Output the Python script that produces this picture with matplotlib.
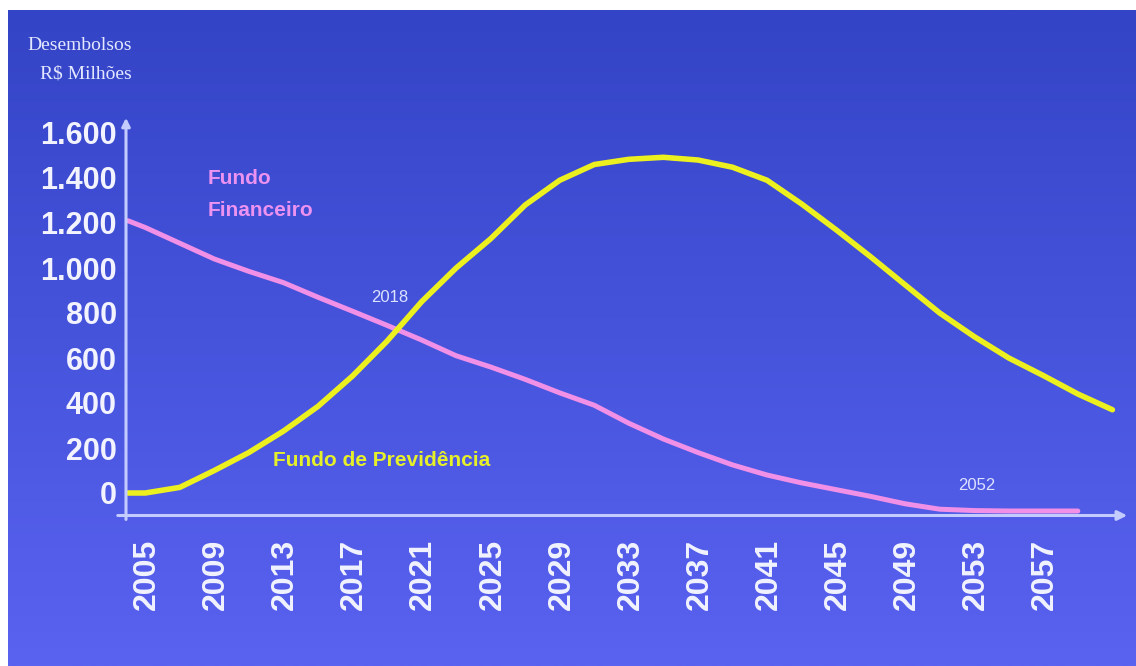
import numpy as np
import matplotlib
matplotlib.use("Agg")
import matplotlib.pyplot as plt
from matplotlib.colors import LinearSegmentedColormap

# data (R$ milhoes per year)
prev_years = [2005] + list(range(2006, 2063, 2))
prev_values = [0, 0, 25, 100, 180, 275, 385, 520, 675, 850, 1000, 1130, 1280, 1390,
               1460, 1483, 1492, 1480, 1448, 1390, 1285, 1170, 1050, 925, 800, 695,
               600, 522, 440, 370]

fin_years = [2005] + list(range(2006, 2061, 2))
fin_values = [1210, 1180, 1110, 1040, 985, 935, 870, 808, 745, 680, 610, 560, 505,
              445, 390, 310, 240, 180, 125, 80, 45, 15, -15, -48, -72, -78, -80,
              -80, -80]

year_labels = list(range(2005, 2058, 4))
y_ticks = [0, 200, 400, 600, 800, 1000, 1200, 1400, 1600]

W, H = 1136, 666
fig = plt.figure(figsize=(W / 100, H / 100), dpi=100)
fig.patch.set_facecolor("white")

# blue gradient background (thin white strip top and left)
bg = fig.add_axes([8 / W, 0, 1 - 8 / W, (H - 10) / H])
bg.axis("off")
cmap = LinearSegmentedColormap.from_list("bg", ["#3444c6", "#4654dc", "#5a62f0"])
grad = np.linspace(0, 1, 256).reshape(-1, 1)
bg.imshow(grad, aspect="auto", cmap=cmap, extent=[0, 1, 0, 1], origin="upper")

def fx(px):
    return px / W

def fy(py):
    return 1 - py / H

# main axes in pixel terms: x 126..1130, y 115..515.5
ax = fig.add_axes([fx(126), fy(515.5), fx(1130) - fx(126), fy(115) - fy(515.5)])
ax.patch.set_alpha(0)
px_per_year = 17.27
x0 = 2005 + (126 - 128) / px_per_year
x1 = 2005 + (1130 - 128) / px_per_year
ax.set_xlim(x0, x1)
ax.set_ylim(-100, 1680)
for s in ax.spines.values():
    s.set_visible(False)

ax.plot(fin_years, fin_values, color="#f090e6", lw=3.6, solid_capstyle="round",
        solid_joinstyle="round", clip_on=False)
ax.plot(prev_years, prev_values, color="#ecf01e", lw=4, solid_capstyle="round",
        solid_joinstyle="round", clip_on=False)

# axis arrows
axis_col = "#c4ccff"
ax.annotate("", xy=(x1, -100), xytext=(2005 + (115 - 128) / px_per_year, -100),
            arrowprops=dict(arrowstyle="-|>", color=axis_col, lw=2.2, mutation_scale=14),
            annotation_clip=False)
ax.annotate("", xy=(x0, 1680), xytext=(x0, -130),
            arrowprops=dict(arrowstyle="-|>", color=axis_col, lw=2.2, mutation_scale=12),
            annotation_clip=False)

label_col = "#f2f3ff"
ax.set_yticks(y_ticks)
ax.set_yticklabels([f"{v:,}".replace(",", ".") for v in y_ticks])
ax.tick_params(axis="y", length=0, pad=6.5, labelcolor=label_col, labelsize=22)
for t in ax.get_yticklabels():
    t.set_fontweight("bold")
    t.set_fontfamily("Liberation Sans")

# year labels sit about one year right of the data start
ax.set_xticks([y + 19 / px_per_year for y in year_labels])
ax.set_xticklabels([str(y) for y in year_labels], rotation=90)
ax.tick_params(axis="x", length=0, pad=17, labelcolor=label_col, labelsize=23)
for t in ax.get_xticklabels():
    t.set_fontweight("bold")
    t.set_fontfamily("Liberation Sans")

# texts
fig.text(fx(27), fy(45), "Desembolsos", family="Liberation Serif", size=14,
         color="#e4e8ff", va="center", ha="left")
fig.text(fx(40), fy(74), "R$ Milhões", family="Liberation Serif", size=14,
         color="#e4e8ff", va="center", ha="left")
fig.text(fx(208), fy(178), "Fundo", family="Liberation Sans", weight="bold", size=15,
         color="#ec92f0", va="center", ha="left")
fig.text(fx(208), fy(210), "Financeiro", family="Liberation Sans", weight="bold", size=15,
         color="#ec92f0", va="center", ha="left")
fig.text(fx(273), fy(460), "Fundo de Previdência", family="Liberation Sans", weight="bold",
         size=15, color="#e6f028", va="center", ha="left")
fig.text(fx(390), fy(297), "2018", family="Liberation Sans", size=12,
         color="#dde2ff", va="center", ha="center")
fig.text(fx(977), fy(486), "2052", family="Liberation Sans", size=12,
         color="#dde2ff", va="center", ha="center")

fig.savefig("out.png", dpi=100)
